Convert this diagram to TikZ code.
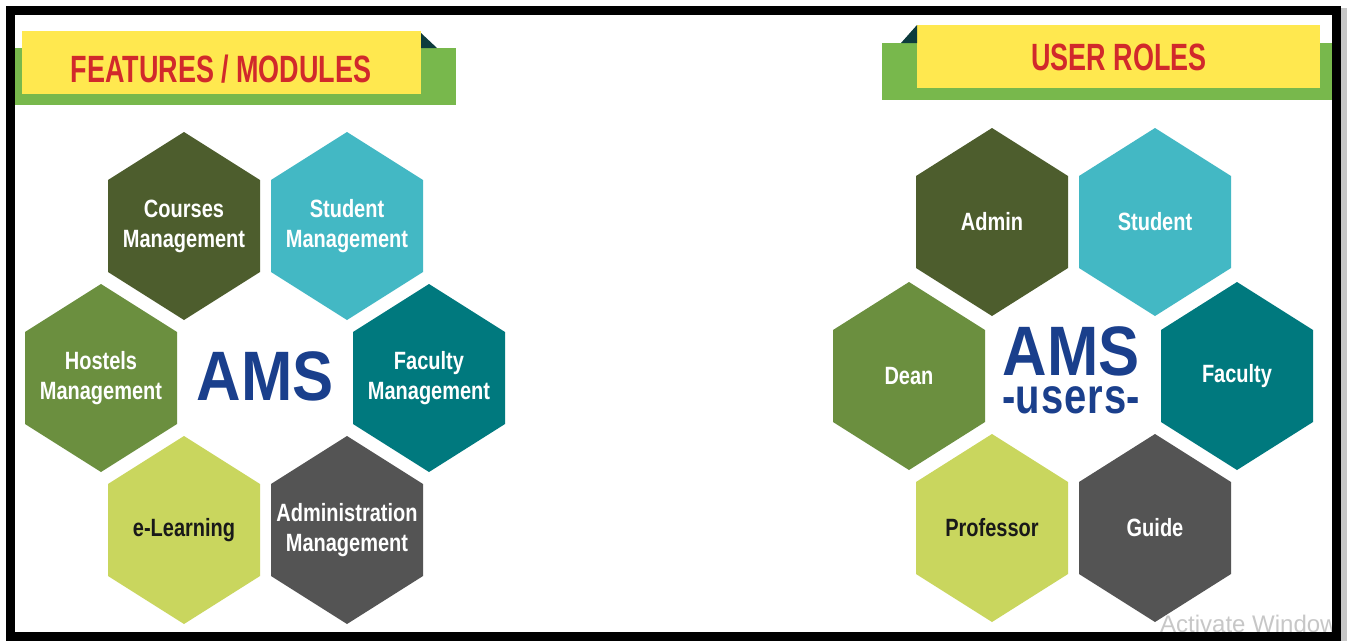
\documentclass[tikz,border=0pt]{standalone}
\usepackage{fontspec}
\usepackage{tikz}
\usetikzlibrary{calc}

\setmainfont{Liberation Sans}
\newfontfamily\titlefont[FakeStretch=0.71]{Liberation Sans}
\newfontfamily\cellfont[FakeStretch=0.8]{Liberation Sans}
\newfontfamily\amsfont[FakeStretch=0.88]{Liberation Sans}

\definecolor{cellOlive}{HTML}{4D5D2D}
\definecolor{cellSky}{HTML}{43B8C4}
\definecolor{cellLeaf}{HTML}{6B8F3F}
\definecolor{cellTeal}{HTML}{00797E}
\definecolor{cellLime}{HTML}{C9D65E}
\definecolor{cellSlate}{HTML}{545454}
\definecolor{bannerYellow}{HTML}{FFE84F}
\definecolor{bannerGreen}{HTML}{78B84C}
\definecolor{foldDark}{HTML}{0D3B3D}
\definecolor{titleRed}{HTML}{D1292B}
\definecolor{amsBlue}{HTML}{1A3F8C}

\tikzset{
  celltext/.style={font=\cellfont\bfseries\fontsize{25}{30}\selectfont, align=center},
  bannertext/.style={font=\titlefont\bfseries\fontsize{38}{38}\selectfont, text=titleRed, anchor=base},
  amstext/.style={font=\amsfont\bfseries\fontsize{70}{70}\selectfont, text=amsBlue, inner sep=0pt}
}

\begin{document}
\begin{tikzpicture}[x=1pt,y=-1pt]
\useasboundingbox (0,0) rectangle (1347,641);
\fill[white] (0,0) rectangle (1347,641);

% banners
\fill[bannerGreen] (15,48) rectangle (456,105);
\fill[bannerYellow] (22,31) rectangle (421,94);
\fill[foldDark] (421,33) -- (437,48) -- (421,48) -- cycle;
\node[bannertext] (features) at (221,82) {FEATURES / MODULES};

\fill[bannerGreen] (882,43) rectangle (1340,100);
\fill[bannerYellow] (917,25) rectangle (1320,88);
\fill[foldDark] (917,25) -- (901,43) -- (917,43) -- cycle;
\node[bannertext] (roles) at (1119,70) {USER ROLES};

% hexagons
\foreach \n/\x/\y/\c/\t/\lbl in {
  courses/184/226/cellOlive/white/{Courses\\Management},
  studentmgmt/347/226/cellSky/white/{Student\\Management},
  hostels/101/378/cellLeaf/white/{Hostels\\Management},
  facultymgmt/429/378/cellTeal/white/{Faculty\\Management},
  elearning/184/530/cellLime/black!90/{e-Learning},
  adminmgmt/347/530/cellSlate/white/{Administration\\Management},
  admin/992/222/cellOlive/white/{Admin},
  student/1155/222/cellSky/white/{Student},
  dean/909/376/cellLeaf/white/{Dean},
  faculty/1237/376/cellTeal/white/{Faculty},
  professor/992/528/cellLime/black!90/{Professor},
  guide/1155/528/cellSlate/white/{Guide}}
{
  \fill[\c] (\x,\y) ++(0,-94) -- ++(76,48) -- ++(0,92) -- ++(-76,48)
    -- ++(-76,-48) -- ++(0,-92) -- cycle;
  \node[celltext, text=\t] (\n) at (\x,\y) {\lbl};
}

\node[amstext, anchor=base] (ams) at (265,400) {AMS};
\node[amstext, align=center] (amsusers) at (1071,370)
  {AMS\\[-32pt]{\cellfont\fontsize{50}{50}\selectfont -u\kern1pt s\kern1pt e\kern1pt r\kern1pt s-}};

\node[anchor=base west, text=black!22, font=\fontsize{24}{24}\selectfont, inner sep=0pt] (watermark) at (1160,632) {Activate Window};

% frame
\fill[black!22] (1340,8) rectangle (1347,641);
\draw[line width=9pt] (10,10) rectangle (1336,636);
\end{tikzpicture}
\end{document}
